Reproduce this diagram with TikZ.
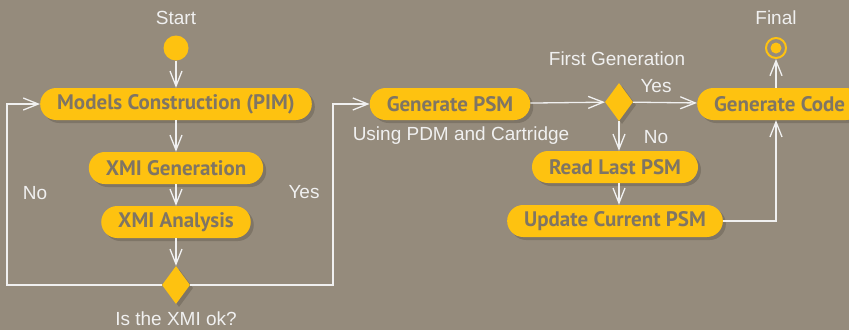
\documentclass[tikz,border=0pt]{standalone}
\usepackage{fontspec}
\setmainfont{Liberation Sans}
\newfontfamily\actfont{PT Sans}
\usetikzlibrary{arrows.meta,shapes.geometric,shadows}
\definecolor{bgfill}{HTML}{958B7C}
\definecolor{actfill}{HTML}{FEC210}
\definecolor{acttext}{HTML}{7F7564}
\definecolor{shade}{HTML}{7E7567}
\definecolor{wire}{HTML}{F0F0F0}
\tikzset{
  action/.style={fill=actfill, rounded corners=16pt, minimum height=32pt, inner xsep=17pt,
    text=acttext, font=\actfont\bfseries\fontsize{21}{21}\selectfont,
    drop shadow={shadow xshift=3pt, shadow yshift=-3pt, fill=shade, opacity=1}},
  choice/.style={diamond, fill=actfill, minimum width=28pt, minimum height=38pt, inner sep=0pt,
    drop shadow={shadow xshift=3pt, shadow yshift=-3pt, fill=shade, opacity=1}},
  startdot/.style={circle, fill=actfill, minimum size=25pt, inner sep=0pt},
  enddot/.style={circle, draw=actfill, line width=2pt, minimum size=20pt, inner sep=0pt,
    path picture={\fill[actfill] (path picture bounding box.center) circle (5.5pt);}},
  note/.style={text=wire, font=\fontsize{19}{19}\selectfont, inner sep=0pt},
  wireline/.style={draw=wire, line width=1.3pt, -{Straight Barb[length=15pt,width=12pt]}}
}
\begin{document}
\begin{tikzpicture}[x=1pt,y=-1pt]
    \fill[bgfill] (0,0) rectangle (849,330);
    \useasboundingbox (0,0) rectangle (849,330);
    % left column
    \node[note] (starttext) at (176,18) {Start};
    \node[startdot] (start) at (176,48) {};
    \node[action] (pim) at (176,104) {Models Construction (PIM)};
    \node[action] (xmigen) at (176,168) {XMI Generation};
    \node[action] (xmiana) at (176,222) {XMI Analysis};
    \node[choice] (check) at (176,285) {};
    \node[note] (checktext) at (176,319) {Is the XMI ok?};
    \node[note] (notext) at (35,193) {No};
    \node[note] (yestext) at (304,192) {Yes};
    \coordinate (noturn) at (7,285);
    \coordinate (yesturn) at (333,285);
    % right part
    \node[action] (genpsm) at (450,104) {Generate PSM};
    \node[note] (psmtext) at (461,136) {Using PDM and Cartridge};
    \node[choice] (first) at (619,102) {};
    \node[note] (firsttext) at (617,59) {First Generation};
    \node[note] (firstyes) at (656,86) {Yes};
    \node[note] (firstno) at (656,137) {No};
    \node[action, anchor=west] (gencode) at (697,104) {Generate Code};
    \node[enddot] (final) at (776,48) {};
    \node[note] (finaltext) at (776,18) {Final};
    \node[action] (readlast) at (615,167) {Read Last PSM};
    \node[action] (update) at (615,221) {Update Current PSM};

    \draw[wireline] (start) -- (pim);
    \draw[wireline] (pim) -- (xmigen);
    \draw[wireline] (xmigen) -- (xmiana);
    \draw[wireline] (xmiana) -- (check);
    \draw[wireline] (check.west) -- (noturn) |- (pim.west);
    \draw[wireline] (check.east) -- (yesturn) |- (genpsm.west);
    \draw[wireline] (genpsm) -- (first);
    \draw[wireline] (first) -- (gencode);
    \draw[wireline] (first.south) -- (first.south |- readlast.north);
    \draw[wireline] (first.south |- readlast.south) -- (first.south |- update.north);
    \draw[wireline] (update.east) -| (final |- gencode.south);
    \draw[wireline] (gencode.north -| final) -- (final);
\end{tikzpicture}
\end{document}
